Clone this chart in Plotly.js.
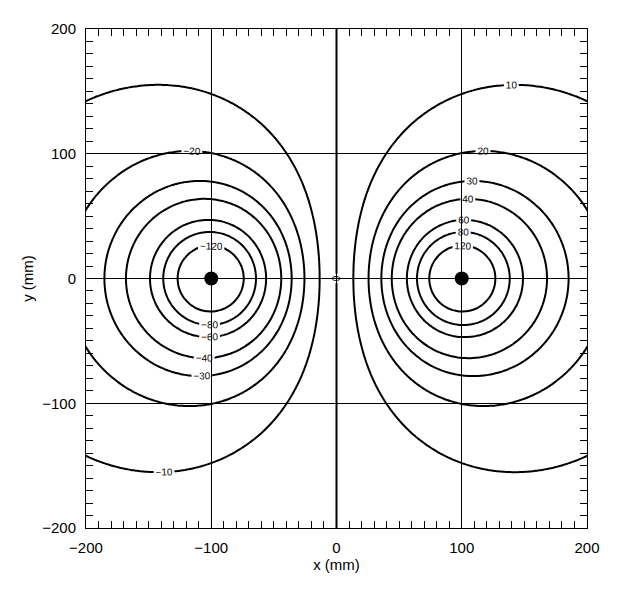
<!DOCTYPE html>
<html>
<head>
<meta charset="utf-8">
<script src="https://cdn.plot.ly/plotly-3.0.1.min.js"></script>
<style>
html,body{margin:0;padding:0;background:#fff;}
#graph .contourlabels text{opacity:0.99;}
</style>
</head>
<body>
<div id="graph" style="width:625px;height:596px;"></div>
<script>
const chargeX = [-100, 100];
const chargeY = [0, 0];
const chargeSign = [-1, 1];
const kConst = 3650;

// contour levels drawn in the picture
const levels = [-120, -80, -60, -40, -30, -20, -10, 0, 10, 20, 30, 40, 60, 80, 120];

// sampling grid (odd values so no node sits on a charge or on x = 0)
const gridX = [];
const gridY = [];
for (let v = -201; v <= 201; v += 2) {
    gridX.push(v);
    gridY.push(v);
}

const potential = gridY.map(y => gridX.map(x => {
    let v = 0;
    for (let i = 0; i < chargeX.length; i++) {
        const r = Math.hypot(x - chargeX[i], y - chargeY[i]);
        v += chargeSign[i] * kConst / r;
    }
    return v;
}));

const font = 'Liberation Sans, Arial, sans-serif';

const data = levels.map(lev => ({
    type: 'contour',
    x: gridX,
    y: gridY,
    z: potential,
    autocontour: false,
    contours: {
        coloring: 'lines',
        start: lev,
        end: lev + 0.5,
        size: 1000,
        showlabels: true,
        labelfont: {family: font, size: 10, color: 'black'}
    },
    colorscale: [[0, 'black'], [1, 'black']],
    line: {width: 2, smoothing: 1},
    showscale: false,
    hoverinfo: 'skip'
}));

data.push({
    type: 'scatter',
    mode: 'markers',
    x: chargeX,
    y: chargeY,
    marker: {color: 'black', size: 14},
    hoverinfo: 'skip',
    showlegend: false
});

function axis(titleText) {
    return {
        range: [-200, 200],
        tick0: 0,
        dtick: 100,
        ticks: 'inside',
        ticklen: 8,
        tickcolor: 'black',
        showline: true,
        linecolor: 'black',
        linewidth: 1,
        mirror: 'allticks',
        showgrid: true,
        gridcolor: 'black',
        gridwidth: 1,
        zeroline: true,
        zerolinecolor: 'black',
        zerolinewidth: 1,
        minor: {dtick: 10, ticks: 'inside', ticklen: 7, tickcolor: 'black', showgrid: false},
        tickfont: {family: font, size: 15, color: 'black'},
        ticklabelstandoff: 6,
        title: {text: titleText, font: {family: font, size: 15, color: 'black'}, standoff: 4}
    };
}

const layout = {
    width: 625,
    height: 596,
    margin: {l: 86, r: 38, t: 29, b: 68},
    paper_bgcolor: 'white',
    plot_bgcolor: 'white',
    showlegend: false,
    xaxis: axis('x (mm)'),
    yaxis: axis('y (mm)')
};

Plotly.newPlot('graph', data, layout, {staticPlot: true});
</script>
</body>
</html>
